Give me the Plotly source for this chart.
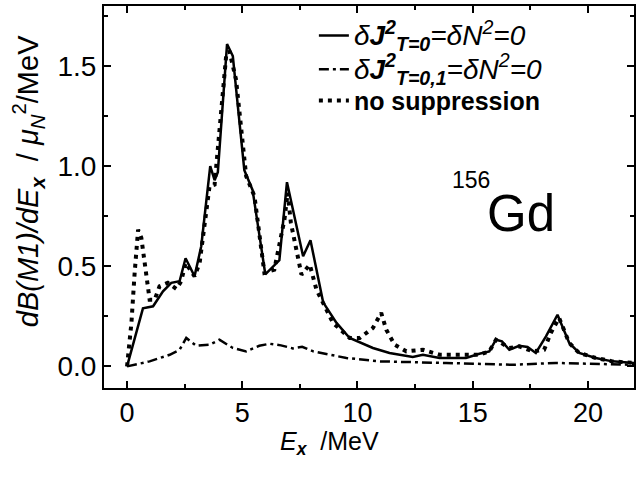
import plotly.graph_objects as go

# --- data ---
ex_solid = [0, 0.69, 1.13, 1.56, 1.92, 2.28, 2.54, 2.93, 3.22, 3.61, 3.80, 3.94, 4.34, 4.59,
            5.09, 5.45, 6.00, 6.61, 6.94, 7.64, 7.96, 8.51, 9.09, 9.66, 10.67, 11.39, 12.40,
            12.84, 13.56, 14.71, 15.29, 15.72, 16.01, 16.27, 16.59, 17.02, 17.38, 17.74,
            18.18, 18.68, 19.19, 19.62, 20.34, 21.06, 22.0]
b_solid = [0, 0.29, 0.30, 0.375, 0.417, 0.425, 0.54, 0.45, 0.60, 1.00, 0.93, 0.97, 1.61, 1.55,
           0.98, 0.88, 0.46, 0.53, 0.92, 0.55, 0.63, 0.32, 0.217, 0.142, 0.092, 0.067, 0.047,
           0.058, 0.042, 0.042, 0.063, 0.075, 0.133, 0.125, 0.083, 0.103, 0.097, 0.067,
           0.15, 0.258, 0.117, 0.067, 0.042, 0.025, 0.017]

ex_dashdot = [0, 0.98, 1.85, 2.28, 2.57, 3.00, 3.58, 4.01, 4.59, 5.17, 5.74, 6.18, 6.68, 7.19,
              7.60, 8.08, 9.52, 10.96, 13.85, 16.73, 18.61, 22.0]
b_dashdot = [0, 0.025, 0.058, 0.083, 0.142, 0.103, 0.108, 0.133, 0.092, 0.075, 0.103, 0.113,
             0.105, 0.090, 0.098, 0.075, 0.042, 0.025, 0.017, 0.008, 0.017, 0.008]

ex_dot = [0, 0.19, 0.33, 0.48, 0.62, 0.84, 0.98, 1.20, 1.41, 1.77, 2.14, 2.35, 2.54, 2.93,
          3.15, 3.58, 3.80, 4.08, 4.30, 4.44, 4.73, 5.17, 5.53, 5.96, 6.39, 6.83, 6.97, 7.11,
          7.57, 7.93, 8.22, 8.94, 9.66, 10.10, 10.67, 11.03, 11.25, 11.61, 12.12, 12.84,
          13.56, 14.28, 15.29, 15.72, 16.01, 16.59, 17.02, 17.60, 18.10, 18.39, 18.75,
          19.19, 19.62, 20.34, 21.06, 22.0]
b_dot = [0, 0.217, 0.467, 0.683, 0.642, 0.433, 0.333, 0.333, 0.40, 0.417, 0.387, 0.425, 0.517,
         0.45, 0.517, 0.90, 0.908, 1.267, 1.55, 1.575, 1.433, 0.95, 0.85, 0.467, 0.483, 0.733,
         0.867, 0.717, 0.458, 0.508, 0.383, 0.217, 0.142, 0.142, 0.192, 0.267, 0.183, 0.108,
         0.075, 0.083, 0.058, 0.058, 0.058, 0.075, 0.133, 0.092, 0.10, 0.075, 0.083, 0.167,
         0.242, 0.117, 0.067, 0.042, 0.025, 0.017]

x_ticks = [0, 5, 10, 15, 20]
y_ticks = [0.0, 0.5, 1.0, 1.5]

names = [
    "<span style='font-size:28px'><i>δ<b>J</b><sup><b>2</b></sup><sub><b>T=0</b></sub>=δN<sup>2</sup>=0</i></span>",
    "<span style='font-size:28px'><i>δ<b>J</b><sup><b>2</b></sup><sub><b>T=0,1</b></sub>=δN<sup>2</sup>=0</i></span>",
    "<b>no suppression</b>",
]

FONT = "Liberation Sans, Arial, sans-serif"

fig = go.Figure()
fig.add_trace(go.Scatter(x=ex_solid, y=b_solid, mode="lines", name=names[0], legend="legend",
                         line=dict(color="black", width=2.5)))
fig.add_trace(go.Scatter(x=ex_dashdot, y=b_dashdot, mode="lines", name=names[1], legend="legend2",
                         line=dict(color="black", width=2.5, dash="10px,4px,3px,4px")))
fig.add_trace(go.Scatter(x=ex_dot, y=b_dot, mode="lines", name=names[2], legend="legend3",
                         line=dict(color="black", width=4, dash="4px,5px")))

fig.add_annotation(x=15.55, y=0.765, xref="x", yref="y", text="Gd", showarrow=False,
                   xanchor="left", yanchor="middle", font=dict(family=FONT, size=51, color="black"))
fig.add_annotation(x=15.85, y=0.93, xref="x", yref="y", text="156", showarrow=False,
                   xanchor="right", yanchor="middle", font=dict(family=FONT, size=23, color="black"))

# axis titles
fig.add_annotation(x=0.425, y=-0.144, xref="paper", yref="paper", showarrow=False,
                   text="<i>E<sub><b>x</b></sub></i>  /MeV", xanchor="center", yanchor="middle",
                   font=dict(family=FONT, size=25, color="black"))
fig.add_annotation(x=-0.143, y=0.542, xref="paper", yref="paper", showarrow=False, textangle=-90,
                   text="<i>dB(M1)/dE<sub><b>x</b></sub></i>  / <i>μ<sub>N</sub></i><sup>2</sup>/MeV",
                   xanchor="center", yanchor="middle",
                   font=dict(family=FONT, size=29, color="black"))

axis_common = dict(showline=True, linecolor="black", linewidth=2, mirror="ticks",
                   ticks="inside", ticklen=7, tickwidth=2, tickcolor="black",
                   showgrid=False, zeroline=False)

fig.update_xaxes(range=[-1, 22], tickmode="array", tickvals=x_ticks,
                 ticktext=[str(v) for v in x_ticks],
                 tickfont=dict(family=FONT, size=27, color="black"),
                 minor=dict(dtick=2.5, ticks="inside", ticklen=4, tickwidth=2, tickcolor="black"),
                 **axis_common)
fig.update_yaxes(range=[-0.108, 1.8], tickmode="array", tickvals=y_ticks,
                 ticktext=[f"{v:.1f}" for v in y_ticks],
                 tickfont=dict(family=FONT, size=28, color="black"),
                 minor=dict(dtick=0.25, ticks="inside", ticklen=4, tickwidth=2, tickcolor="black"),
                 **axis_common)

leg_common = dict(xanchor="left", yanchor="middle", bgcolor="rgba(0,0,0,0)",
                  font=dict(family=FONT, size=25, color="black"), itemwidth=30)

fig.update_layout(
    width=637, height=487,
    margin=dict(l=104, r=1, t=6, b=99),
    paper_bgcolor="white", plot_bgcolor="white",
    font=dict(family=FONT, color="black"),
    showlegend=True,
    legend=dict(x=0.396, y=0.922, **leg_common),
    legend2=dict(x=0.396, y=0.834, **leg_common),
    legend3=dict(x=0.396, y=0.752, **leg_common),
)

fig.write_html("out.html")
